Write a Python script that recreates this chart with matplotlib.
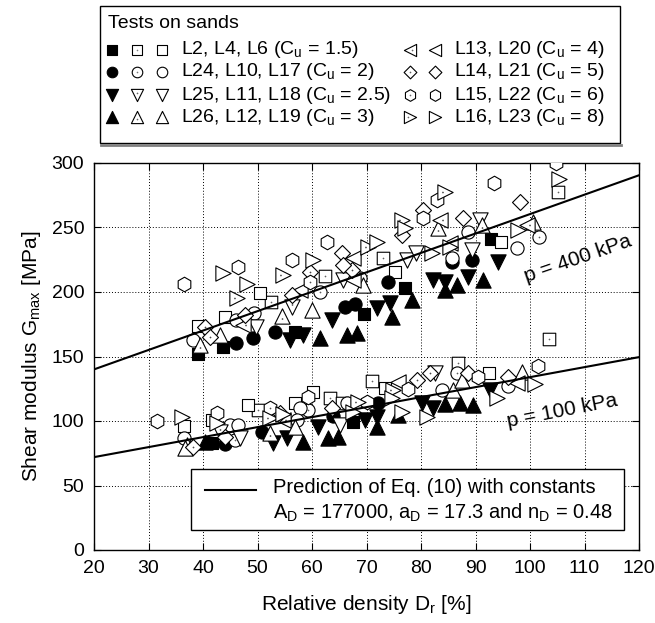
import numpy as np
import matplotlib
matplotlib.use('Agg')
import matplotlib.pyplot as plt
from matplotlib.path import Path
from matplotlib.markers import MarkerStyle
from matplotlib.patches import Rectangle
from matplotlib.lines import Line2D

plt.rcParams['font.family'] = ['Liberation Sans', 'DejaVu Sans']
plt.rcParams['mathtext.fontset'] = 'custom'
plt.rcParams['mathtext.rm'] = 'Liberation Sans'
plt.rcParams['mathtext.it'] = 'Liberation Sans:italic'

# ---- data: relative density Dr [%] and Gmax [MPa], p = 400 and 100 kPa together
# Cu = 1.5 (squares)
sq_fill_dr = [39.1, 43.7, 56.9, 69.5, 77.1, 92.8, 41.7, 67.5]
sq_fill_g = [151.9, 157.4, 169.0, 182.9, 203.1, 241.1, 83.0, 99.2]
sq_dot_dr = [52.5, 62.4, 73.0, 105.1, 103.5, 50.1, 63.3, 65.5, 71.0, 86.8]
sq_dot_g = [192.2, 212.4, 226.4, 277.5, 163.6, 108.5, 117.8, 114.0, 131.0, 145.0]
sq_open_dr = [50.5, 44.0, 39.1, 75.2, 94.7, 36.5, 41.7, 48.3, 56.9, 60.2, 73.4, 92.5]
sq_open_g = [199.2, 180.6, 173.6, 215.5, 238.8, 96.1, 100.8, 112.4, 114.0, 122.5, 125.6, 137.2]
# Cu = 2 (circles)
ci_fill_dr = [46.1, 49.2, 53.2, 66.1, 67.9, 73.9, 85.7, 89.4, 44.0, 50.8, 63.9, 72.1]
ci_fill_g = [160.5, 164.3, 169.0, 188.4, 190.7, 207.8, 223.3, 224.8, 82.5, 91.5, 104.0, 114.0]
ci_dot_dr = [61.5, 101.7, 45.9, 59.3, 86.6]
ci_dot_g = [200.0, 242.6, 85.3, 108.5, 137.2]
ci_open_dr = [46.1, 49.4, 38.2, 68.8, 85.7, 88.6, 97.6, 36.5, 45.0, 46.4, 57.8, 57.2, 66.4, 83.9, 96.0]
ci_open_g = [178.3, 183.7, 162.8, 210.9, 226.4, 246.5, 234.1, 86.8, 96.9, 96.9, 110.1, 100.8, 114.0, 124.0, 127.1]
# Cu = 2.5 (down triangles)
dn_fill_dr = [56.0, 58.3, 63.7, 71.9, 74.3, 82.2, 84.4, 88.6, 94.1,
              52.8, 55.4, 61.1, 69.7, 71.9, 80.2, 82.2, 92.7]
dn_fill_g = [162.8, 166.7, 178.3, 187.6, 191.5, 209.3, 207.8, 211.6, 223.3,
             82.9, 86.8, 95.3, 100.8, 103.1, 114.0, 110.1, 124.0]
dn_dot_dr = [56.3, 43.1, 82.6]
dn_dot_g = [188.4, 91.5, 137.2]
dn_open_dr = [49.7, 65.7, 77.4, 79.1, 90.8, 89.4, 46.8, 65.1]
dn_open_g = [172.9, 209.3, 224.8, 230.2, 255.8, 232.6, 86.8, 96.9]
# Cu = 3 (up triangles)
up_fill_dr = [61.5, 66.4, 68.3, 74.7, 78.3, 84.4, 86.6, 91.4,
              40.4, 58.3, 62.9, 64.8, 71.9, 75.8, 84.4, 87.2, 89.5]
up_fill_g = [164.3, 166.7, 168.2, 180.6, 193.8, 201.6, 205.4, 209.3,
             84.0, 83.7, 86.8, 87.6, 95.3, 104.7, 113.2, 114.0, 112.4]
up_dot_dr = [39.4, 54.5, 83.1, 91.2, 52.3, 37.1]
up_dot_g = [158.9, 181.4, 249.6, 251.9, 90.7, 81.4]
up_open_dr = [43.1, 60.0, 69.4, 100.6, 36.7, 56.9, 85.9, 87.5, 98.5]
up_open_g = [166.7, 186.0, 205.4, 254.3, 79.1, 95.3, 124.0, 131.8, 138.0]
# Cu = 4 (left triangles)
lt_dot_dr = [83.5, 99.4, 47.3, 54.7]
lt_dot_g = [255.8, 251.9, 174.4, 100.8]
lt_open_dr = [67.5, 57.8, 67.5, 85.3, 75.8, 97.6]
lt_open_g = [226.4, 201.6, 209.3, 238.0, 130.2, 129.5]
# Cu = 5 (diamonds)
di_dot_dr = [40.4, 41.3, 59.6, 67.3, 38.2, 79.3, 81.7]
di_dot_g = [172.9, 165.1, 215.5, 217.1, 79.8, 131.8, 137.2]
di_open_dr = [47.7, 56.3, 65.5, 65.7, 76.5, 80.4, 87.7, 98.2, 44.0, 54.1, 63.7, 88.6, 96.0]
di_open_g = [182.2, 197.7, 230.2, 220.9, 244.2, 263.6, 257.4, 269.8, 87.6, 106.2, 110.1, 137.2, 134.1]
# Cu = 6 (hexagons)
hx_dot_dr = [59.6, 52.3]
hx_dot_g = [207.8, 110.1]
hx_open_dr = [36.5, 46.4, 56.3, 62.8, 80.4, 82.9, 93.4, 104.8, 31.6, 42.6, 59.3, 70.1, 77.6, 90.5, 101.5]
hx_open_g = [206.2, 219.4, 224.8, 238.8, 257.4, 271.3, 284.5, 300.0, 100.0, 106.2, 118.6, 114.7, 124.8, 134.1, 142.6]
# Cu = 8 (right triangles)
rt_dot_dr = [46.2, 54.7, 70.3, 76.5, 84.4, 52.3, 68.4, 74.9]
rt_dot_g = [195.3, 213.2, 234.9, 255.8, 277.5, 102.3, 114.7, 124.0]
rt_open_dr = [43.7, 48.1, 60.2, 71.9, 77.1, 82.0, 97.8, 105.3, 85.3,
              36.1, 42.6, 54.7, 67.5, 74.7, 76.5, 81.1, 93.9, 100.9]
rt_open_g = [214.7, 206.2, 224.8, 238.8, 249.6, 230.2, 248.1, 287.6, 234.9,
             103.1, 98.4, 105.4, 107.0, 117.8, 107.0, 103.1, 117.8, 128.7]

# prediction of Eq. (10), end values
line_dr = [20, 120]
line_g400 = [140.0, 290.5]
line_g100 = [72.0, 149.5]

left_labels = ['L2, L4, L6 (C$_{\\rm u}$ = 1.5)', 'L24, L10, L17 (C$_{\\rm u}$ = 2)',
               'L25, L11, L18 (C$_{\\rm u}$ = 2.5)', 'L26, L12, L19 (C$_{\\rm u}$ = 3)']
right_labels = ['L13, L20 (C$_{\\rm u}$ = 4)', 'L14, L21 (C$_{\\rm u}$ = 5)',
                'L15, L22 (C$_{\\rm u}$ = 6)', 'L16, L23 (C$_{\\rm u}$ = 8)']


def shape(m):
    ms = MarkerStyle(m)
    return ms.get_path().transformed(ms.get_transform())


def with_dot(m):
    p = shape(m)
    ext = np.abs(p.vertices).max()
    c = p.vertices[:-1].mean(axis=0) if m != 'o' else np.array([0.0, 0.0])
    return Path.make_compound_path(p, Path.circle(tuple(c), 0.03 * ext))


sizes = {'s': 9, 'o': 9.5, 'v': 11, '^': 11, '<': 11, 'D': 11.5, 'h': 10.5, '>': 11}

groups = [
    ('s', sq_fill_dr, sq_fill_g, sq_dot_dr, sq_dot_g, sq_open_dr, sq_open_g),
    ('o', ci_fill_dr, ci_fill_g, ci_dot_dr, ci_dot_g, ci_open_dr, ci_open_g),
    ('v', dn_fill_dr, dn_fill_g, dn_dot_dr, dn_dot_g, dn_open_dr, dn_open_g),
    ('^', up_fill_dr, up_fill_g, up_dot_dr, up_dot_g, up_open_dr, up_open_g),
    ('<', None, None, lt_dot_dr, lt_dot_g, lt_open_dr, lt_open_g),
    ('D', None, None, di_dot_dr, di_dot_g, di_open_dr, di_open_g),
    ('h', None, None, hx_dot_dr, hx_dot_g, hx_open_dr, hx_open_g),
    ('>', None, None, rt_dot_dr, rt_dot_g, rt_open_dr, rt_open_g),
]

fig = plt.figure(figsize=(6.55, 6.23), dpi=100)
ax = fig.add_axes([94 / 655, 1 - 550 / 623, 545 / 655, 387 / 623])

for m, fx, fy, dx, dy, ox, oy in groups:
    ms = sizes[m]
    if fx is not None:
        ax.plot(fx, fy, ls='none', marker=shape(m), ms=ms, mfc='black', mec='black', mew=0.8, zorder=3)
    ax.plot(dx, dy, ls='none', marker=with_dot(m), ms=ms, mfc='white', mec='black', mew=0.8, zorder=3)
    ax.plot(ox, oy, ls='none', marker=shape(m), ms=ms, mfc='white', mec='black', mew=0.8, zorder=3)

ax.plot(line_dr, line_g400, color='black', lw=1.5, zorder=4)
ax.plot(line_dr, line_g100, color='black', lw=1.5, zorder=4)
ax.text(108.8, 226, 'p = 400 kPa', rotation=19, fontsize=15, ha='center', va='center', zorder=5)
ax.text(105.9, 108, 'p = 100 kPa', rotation=11, fontsize=15, ha='center', va='center', zorder=5)

ax.set_xlim(20, 120)
ax.set_ylim(0, 300)
ax.set_xticks(np.arange(20, 121, 10))
ax.set_yticks(np.arange(0, 301, 50))
ax.grid(True, color='black', ls=(0, (1, 2)), lw=0.7)
ax.tick_params(direction='in', top=True, right=True, length=5, width=0.8, labelsize=14, pad=7)
for sp in ax.spines.values():
    sp.set_linewidth(1.0)
ax.set_xlabel('Relative density D$_{\\rm r}$ [%]', fontsize=15, labelpad=12)
ax.set_ylabel('Shear modulus G$_{\\rm max}$ [MPa]', fontsize=15, labelpad=6)

# inner legend box (prediction), placed in data units
ax.add_patch(Rectangle((37.8, 15.5), 79.4, 47.3, facecolor='white', edgecolor='black', lw=1.0, zorder=6))
ax.add_line(Line2D([40.4, 49.7], [46.5, 46.5], color='black', lw=1.5, zorder=7))
ax.text(52.8, 48.6, 'Prediction of Eq. (10) with constants', fontsize=14.5, va='center', zorder=7)
ax.text(52.8, 28.7, 'A$_{\\rm D}$ = 177000, a$_{\\rm D}$ = 17.3 and n$_{\\rm D}$ = 0.48',
        fontsize=14.5, va='center', zorder=7)

# top legend (tests)
lax = fig.add_axes([0, 0, 1, 1], zorder=-1)
lax.set_xlim(0, 655)
lax.set_ylim(623, 0)
lax.axis('off')
lax.add_patch(Rectangle((100, 6), 520, 137, facecolor='white', edgecolor='black', lw=1.0))
lax.plot([101, 621], [144.5, 144.5], color='0.5', lw=2)
lax.text(108, 24, 'Tests on sands', fontsize=14, va='center')
row_y = [50, 72, 95, 117]
for i, (m, fx, fy, dx, dy, ox, oy) in enumerate(groups):
    y = row_y[i % 4]
    x0 = 112 if i < 4 else 385
    ms = sizes[m] * 0.8
    if fx is not None:
        lax.plot([x0], [y], ls='none', marker=shape(m), ms=ms, mfc='black', mec='black', mew=0.8)
    lax.plot([x0 + 25], [y], ls='none', marker=with_dot(m), ms=ms, mfc='white', mec='black', mew=0.8)
    lax.plot([x0 + 50], [y], ls='none', marker=shape(m), ms=ms, mfc='white', mec='black', mew=0.8)
    lab = left_labels[i] if i < 4 else right_labels[i - 4]
    lax.text(x0 + 69, y, lab, fontsize=14, va='center')

fig.savefig('out.png', dpi=100)
